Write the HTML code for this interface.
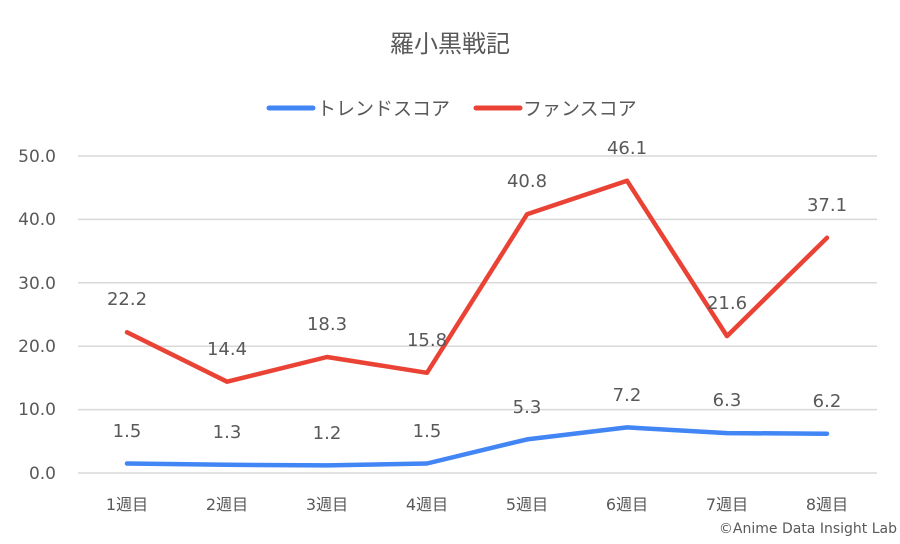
<!DOCTYPE html>
<html><head><meta charset="utf-8"><style>
body{margin:0;background:#fff}
text{font-family:"DejaVu Sans","Noto Sans CJK JP",sans-serif;fill:#595959}
</style></head><body>
<svg width="900" height="539" viewBox="0 0 900 539" xmlns="http://www.w3.org/2000/svg">
<rect width="900" height="539" fill="#fff"/>
<text x="450" y="52" font-size="24" text-anchor="middle">羅小黒戦記</text>
<line x1="269" y1="108" x2="313" y2="108" stroke="#4285f4" stroke-width="5" stroke-linecap="round"/>
<text x="317" y="115" font-size="19">トレンドスコア</text>
<line x1="476" y1="108" x2="520" y2="108" stroke="#ea4335" stroke-width="5" stroke-linecap="round"/>
<text x="523" y="115" font-size="19">ファンスコア</text>
<g stroke="#d9d9d9" stroke-width="1.5">
<line x1="78" y1="156" x2="877" y2="156"/>
<line x1="78" y1="219.4" x2="877" y2="219.4"/>
<line x1="78" y1="282.8" x2="877" y2="282.8"/>
<line x1="78" y1="346.2" x2="877" y2="346.2"/>
<line x1="78" y1="409.6" x2="877" y2="409.6"/>
<line x1="78" y1="473" x2="877" y2="473"/>
</g>
<g font-size="17" text-anchor="end">
<text x="56" y="162">50.0</text>
<text x="56" y="225">40.0</text>
<text x="56" y="289">30.0</text>
<text x="56" y="352">20.0</text>
<text x="56" y="415">10.0</text>
<text x="56" y="479">0.0</text>
</g>
<g font-size="16" text-anchor="middle">
<text x="127" y="510">1週目</text><text x="227" y="510">2週目</text><text x="327" y="510">3週目</text><text x="427" y="510">4週目</text>
<text x="527" y="510">5週目</text><text x="627" y="510">6週目</text><text x="727" y="510">7週目</text><text x="827" y="510">8週目</text>
</g>
<polyline fill="none" stroke="#ea4335" stroke-width="4.5" stroke-linejoin="round" stroke-linecap="round"
points="127,332.3 227,381.7 327,357 427,372.8 527,214.3 627,180.7 727,336.1 827,237.8"/>
<polyline fill="none" stroke="#4285f4" stroke-width="4.5" stroke-linejoin="round" stroke-linecap="round"
points="127,463.5 227,464.8 327,465.4 427,463.5 527,439.4 627,427.4 727,433.1 827,433.7"/>
<g font-size="18" text-anchor="middle">
<text x="127" y="305">22.2</text><text x="227" y="355">14.4</text><text x="327" y="330">18.3</text><text x="427" y="346">15.8</text>
<text x="527" y="187">40.8</text><text x="627" y="154">46.1</text><text x="727" y="309">21.6</text><text x="827" y="211">37.1</text>
<text x="127" y="437">1.5</text><text x="227" y="438">1.3</text><text x="327" y="439">1.2</text><text x="427" y="437">1.5</text>
<text x="527" y="413">5.3</text><text x="627" y="401">7.2</text><text x="727" y="406">6.3</text><text x="827" y="407">6.2</text>
</g>
<text x="897" y="533" font-size="14" text-anchor="end">©Anime Data Insight Lab</text>
</svg>
</body></html>
